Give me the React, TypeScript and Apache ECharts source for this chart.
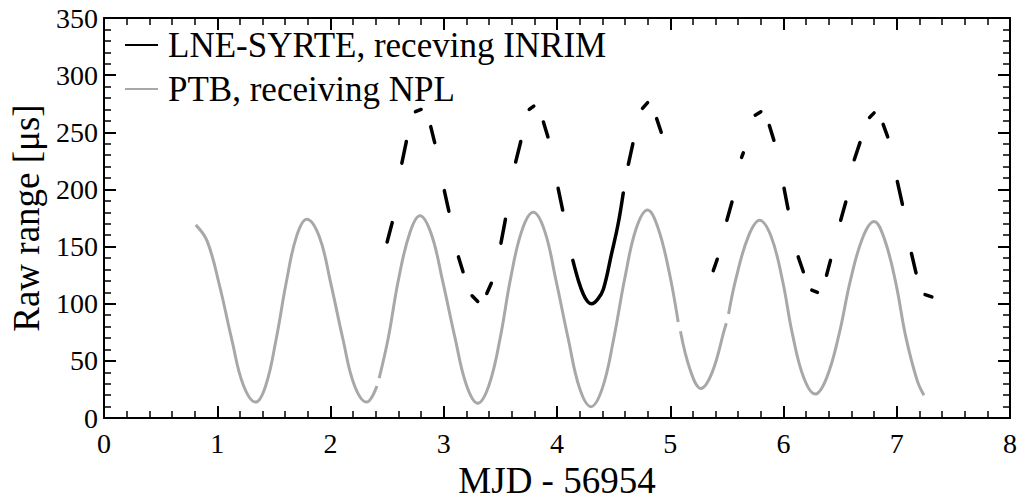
import React, { useEffect, useRef } from 'react';
import * as echarts from 'echarts';

type Pt = [number, number] | null;

const seriesNames = ['LNE-SYRTE, receving INRIM', 'PTB, receiving NPL'];
const xAxisTitle = 'MJD - 56954';
const yAxisTitle = 'Raw range [μs]';

// LNE-SYRTE (black), dashes separated by null
const lneData: Pt[] = [
  [2.50, 154], [2.545, 171], null,
  [2.63, 223], [2.67, 242], null,
  [2.75, 268], [2.80, 270], null,
  [2.885, 255], [2.92, 241], null,
  [3.005, 199], [3.045, 181], null,
  [3.13, 141], [3.17, 128], null,
  [3.25, 107], [3.30, 102], null,
  [3.38, 109], [3.42, 118], null,
  [3.505, 153], [3.545, 174], null,
  [3.635, 224], [3.68, 242], null,
  [3.755, 270], [3.795, 273], null,
  [3.88, 259], [3.92, 246], null,
  [4.01, 201], [4.05, 182], null,
  [4.14, 138], [4.19, 120], [4.23, 109], [4.27, 102], [4.305, 100], [4.36, 104], [4.41, 113], [4.48, 143], [4.54, 170], [4.585, 197], null,
  [4.63, 222], [4.67, 240], null,
  [4.755, 271], [4.80, 276], null,
  [4.88, 262], [4.92, 250], null,
  [5.38, 129], [5.415, 139], null,
  [5.50, 173], [5.545, 189], null,
  [5.63, 228], [5.645, 232], null,
  [5.75, 265], [5.80, 268], null,
  [5.875, 256], [5.915, 243], null,
  [6.005, 201], [6.04, 183], null,
  [6.13, 141], [6.175, 128], null,
  [6.25, 112], [6.30, 110], null,
  [6.38, 125], [6.415, 138], null,
  [6.505, 173], [6.55, 189], null,
  [6.625, 226], [6.675, 241], null,
  [6.76, 263], [6.80, 267], null,
  [6.88, 257], [6.92, 246], null,
  [7.005, 207], [7.05, 187], null,
  [7.13, 144], [7.17, 127], null,
  [7.25, 108], [7.31, 106],
];

// PTB (grey), gaps marked by null
const ptbData: Pt[] = [
  [0.81, 169], [0.91, 155], [1.02, 116], [1.13, 68], [1.23, 29], [1.34, 14],
  [1.43, 29], [1.52, 69], [1.61, 119], [1.70, 159], [1.79, 174],
  [1.90, 159], [2.00, 119], [2.11, 69], [2.21, 29], [2.32, 14],
  [2.41, 28], null, [2.43, 35], [2.51, 70], [2.60, 121], [2.70, 162], [2.79, 177],
  [2.89, 161], [2.99, 120], [3.10, 70], [3.20, 29], [3.30, 13],
  [3.40, 29], [3.50, 71], [3.59, 122], [3.69, 164], [3.79, 180],
  [3.89, 164], [3.99, 121], [4.10, 69], [4.20, 26], [4.30, 10],
  [4.40, 26], [4.50, 69], [4.60, 123], [4.70, 166], [4.80, 182],
  [4.89, 167], [4.99, 128], [5.07, 84], null, [5.09, 76], [5.18, 41], [5.27, 26],
  [5.37, 40], [5.48, 78], [5.495, 83], null, [5.515, 91], [5.58, 122], [5.69, 159], [5.79, 173],
  [5.89, 159], [5.99, 121], [6.08, 73], [6.18, 35], [6.28, 21],
  [6.38, 35], [6.49, 73], [6.59, 120], [6.70, 158], [6.80, 172],
  [6.89, 157], [6.99, 119], [7.08, 71], [7.18, 33], [7.24, 20],
];

function splitSegments(d: Pt[]): [number, number][][] {
  const out: [number, number][][] = [];
  let cur: [number, number][] = [];
  for (const p of d) {
    if (p === null) {
      if (cur.length) out.push(cur);
      cur = [];
    } else cur.push(p);
  }
  if (cur.length) out.push(cur);
  return out;
}

const FONT = 'Liberation Serif';

function axisParts(labels: boolean, margin: number): any {
  return {
    axisLine: { show: true, onZero: false, lineStyle: { color: '#000', width: 2 } },
    axisTick: { show: true, inside: true, length: 12, lineStyle: { color: '#000', width: 2 } },
    minorTick: { show: true, splitNumber: 5, length: 7, lineStyle: { color: '#000', width: 1.5 } },
    splitLine: { show: false },
    axisLabel: labels
      ? { show: true, margin, fontFamily: FONT, fontSize: 28, color: '#000' }
      : { show: false },
  };
}

export default function App() {
  const ref = useRef<HTMLDivElement>(null);
  useEffect(() => {
    document.body.style.margin = '0';
    const chart = echarts.init(ref.current!, null, { renderer: 'svg' });

    const gray = '#a8a8a8';
    const series: any[] = [];
    splitSegments(lneData).forEach((seg) => {
      series.push({
        type: 'line', name: seriesNames[0], data: seg, symbol: 'none', smooth: 0.4,
        lineStyle: { color: '#000', width: 3.5, cap: 'round' }, itemStyle: { color: '#000' },
        z: 3,
      });
    });
    splitSegments(ptbData).forEach((seg) => {
      series.push({
        type: 'line', name: seriesNames[1], data: seg, symbol: 'none', smooth: 0.4,
        lineStyle: { color: gray, width: 3 }, itemStyle: { color: gray },
        z: 2,
      });
    });

    chart.setOption({
      animation: false,
      grid: { left: 104, right: 10, top: 18, bottom: 84 },
      legend: {
        data: seriesNames.map((n, i) => ({
          name: n,
          icon: 'rect',
          itemStyle: { color: i === 0 ? '#000' : gray },
        })),
        orient: 'vertical',
        left: 125,
        top: 25,
        padding: 0,
        itemWidth: 33,
        itemHeight: 2,
        itemGap: 4,
        textStyle: { fontFamily: FONT, fontSize: 35, lineHeight: 40, color: '#000', padding: [0, 0, 0, 5] },
      },
      xAxis: [
        {
          type: 'value', min: 0, max: 8, interval: 1,
          name: xAxisTitle, nameLocation: 'middle', nameGap: 42,
          nameTextStyle: { fontFamily: FONT, fontSize: 37, color: '#000' },
          ...axisParts(true, 11),
        },
        {
          type: 'value', min: 0, max: 8, interval: 1, position: 'top',
          ...axisParts(false, 0),
        },
      ],
      yAxis: [
        {
          type: 'value', min: 0, max: 350, interval: 50,
          name: yAxisTitle, nameLocation: 'middle', nameGap: 58,
          nameTextStyle: { fontFamily: FONT, fontSize: 37, color: '#000' },
          ...axisParts(true, 6),
        },
        {
          type: 'value', min: 0, max: 350, interval: 50, position: 'right',
          ...axisParts(false, 0),
        },
      ],
      series,
    });
    return () => chart.dispose();
  }, []);
  return <div ref={ref} style={{ width: 1020, height: 504 }} />;
}
